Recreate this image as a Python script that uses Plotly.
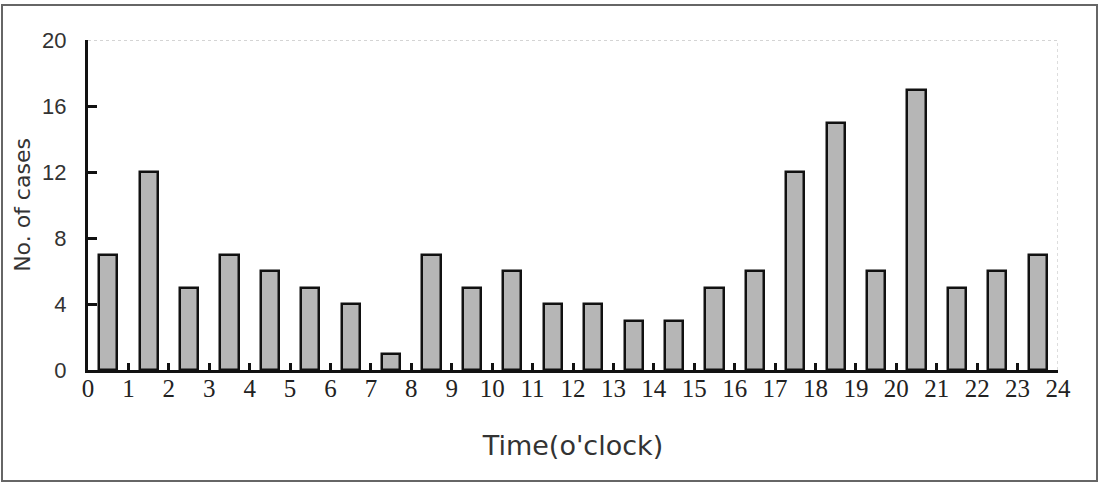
import plotly.graph_objects as go

hours = list(range(24))
cases = [7, 12, 5, 7, 6, 5, 4, 1, 7, 5, 6, 4, 4, 3, 3, 5, 6, 12, 15, 6, 17, 5, 6, 7]
x_ticks = list(range(25))
y_ticks = [0, 4, 8, 12, 16, 20]

W, H = 1101, 484
L, R, T, B = 88, 43, 40, 114
pw, ph = W - L - R, H - T - B

def px_to_paper_x(px):
    return (px - L) / pw

def px_to_paper_y(py):
    return (H - B - py) / ph

fig = go.Figure()
fig.add_trace(go.Bar(
    x=[h + 0.5 for h in hours], y=cases, width=0.45,
    marker=dict(color="#b6b6b6", line=dict(color="#111111", width=2.5)),
    showlegend=False, hoverinfo="skip",
))

fig.update_layout(
    width=W, height=H,
    margin=dict(l=L, r=R, t=T, b=B),
    paper_bgcolor="white", plot_bgcolor="white",
    xaxis=dict(
        range=[0, 24], tickmode="array", tickvals=x_ticks,
        ticktext=[str(v) for v in x_ticks],
        ticks="inside", ticklen=7, tickwidth=2.5, tickcolor="#111111",
        showline=True, linecolor="#111111", linewidth=3,
        showgrid=False, zeroline=False,
        ticklabelstandoff=-6,
        tickfont=dict(family="Liberation Serif", size=25, color="#222222"),
        title=dict(text="Time(o'clock)", font=dict(family="DejaVu Sans", size=27, color="#333333"), standoff=36),
    ),
    yaxis=dict(
        range=[0, 20], tickmode="array", tickvals=y_ticks,
        ticks="inside", ticklen=9, tickwidth=2.5, tickcolor="#111111",
        showline=True, linecolor="#111111", linewidth=3,
        showgrid=False, zeroline=False,
        ticklabelstandoff=14,
        tickfont=dict(family="Liberation Sans", size=22, color="#333333"),
        title=dict(text="No. of cases", font=dict(family="DejaVu Sans", size=22, color="#333333"), standoff=6),
    ),
    bargap=0,
)

# top and right frame lines of plot area (light grey, dotted)
fig.add_shape(type="line", xref="x", yref="y", x0=0, x1=24, y0=20, y1=20,
              line=dict(color="#aaaaaa", width=1.2, dash="dot"))
fig.add_shape(type="line", xref="x", yref="y", x0=24, x1=24, y0=0, y1=20,
              line=dict(color="#bbbbbb", width=1, dash="dot"))

# outer border around the figure
fig.add_shape(type="rect", xref="paper", yref="paper",
              x0=px_to_paper_x(2), x1=px_to_paper_x(1097),
              y0=px_to_paper_y(481), y1=px_to_paper_y(5),
              line=dict(color="#666666", width=2), layer="below")

fig.write_html("out.html")
